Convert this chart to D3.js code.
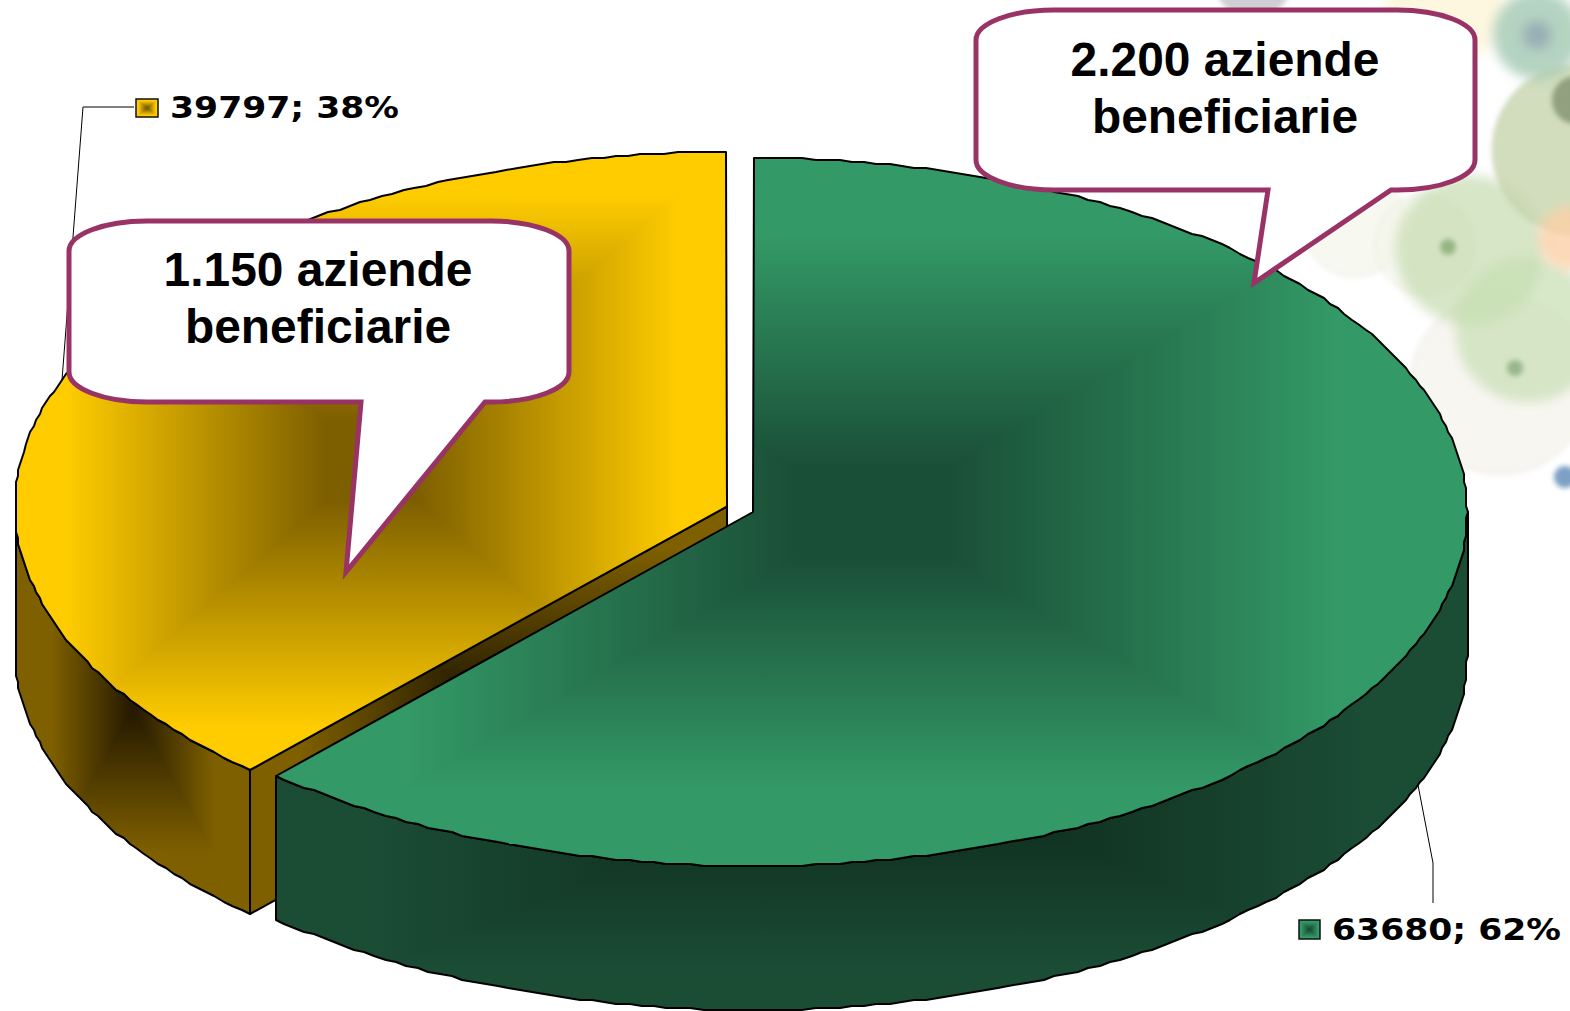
<!DOCTYPE html>
<html>
<head>
<meta charset="utf-8">
<title>Aziende beneficiarie</title>
<script src="https://cdn.jsdelivr.net/npm/d3@7"></script>
<style>
  html, body { margin: 0; padding: 0; background: #fff; overflow: hidden; }
  svg { display: block; }
</style>
</head>
<body>
<svg id="chart" width="1570" height="1011"></svg>
<script>
// values
const categories = ["verde", "giallo"];
const values = [63680, 39797];
const percents = [62, 38];
const calloutLines = [
  ["2.200 aziende", "beneficiarie"],
  ["1.150 aziende", "beneficiarie"]
];

const DEPTH = 144;
const STEP = Math.PI / 180;  // coarse outline, the source is a low-res metafile
const SNAP = 2;

const looks = {
  verde: {
    cx: 753, cy: 512, rx: 714, ry: 354,
    top: ["#339966", "#1a4f37"], wall: ["#1b4d35", "#0b2418"], cut: ["#1b4d35", "#0b2418"],
    topReach: 0.78, wallReach: 0.85,
    label: { x: 1332, y: 940, key: [1299, 920, 21, 19] },
    leader: [[1418, 785], [1433, 863], [1433, 903]]
  },
  giallo: {
    cx: 727, cy: 506.5, rx: 712, ry: 354.5,
    top: ["#ffcc00", "#7d5f00"], wall: ["#7f6000", "#241900"], cut: ["#7f6000", "#1c1400"],
    topReach: 0.86, wallReach: 0.7,
    label: { x: 170, y: 118, key: [136, 99, 22, 18] },
    leader: [[134, 107], [83, 107], [62, 380]]
  }
};

const calloutBoxes = [
  { x0: 976, y0: 10, x1: 1475, y1: 190, tail: [1268, 1254, 283, 1391], textX: 1225, textY: 76 },
  { x0: 69, y0: 221, x1: 569, y1: 402, tail: [361, 346, 572, 485], textX: 318, textY: 286 }
];

// faded decoration behind the top right corner
const bubbles = [
  { x: 1253, y: -22, r: 40, c: "#b9b9c0", o: 0.7, blur: 1 },
  { x: 1445, y: 5, r: 60, c: "#fbf0c0", o: 0.5, blur: 2 },
  { x: 1355, y: 225, r: 52, c: "#f2f3e6", o: 0.6, ring: 1, blur: 1 },
  { x: 1425, y: 245, r: 50, c: "#f3f5ea", o: 0.6, ring: 1, blur: 1 },
  { x: 1500, y: 385, r: 90, c: "#f5f3ec", o: 0.75, ring: 1, blur: 1 },
  { x: 1470, y: 250, r: 74, c: "#c4dcae", o: 0.7, ring: 1, blur: 2 },
  { x: 1528, y: 330, r: 72, c: "#c6deb2", o: 0.7, ring: 1, blur: 2 },
  { x: 1578, y: 150, r: 86, c: "#c6d5ac", o: 0.8, ring: 1, blur: 1 },
  { x: 1570, y: 238, r: 32, c: "#fbcfa6", o: 0.8, blur: 2 },
  { x: 1537, y: 35, r: 44, c: "#a2c8b2", o: 0.8, blur: 2 },
  { x: 1537, y: 35, r: 14, c: "#8ea2b0", o: 0.75, blur: 2 },
  { x: 1576, y: 100, r: 24, c: "#8b9a78", o: 0.9, blur: 1 },
  { x: 1448, y: 247, r: 8, c: "#86ab74", o: 0.8, blur: 1 },
  { x: 1515, y: 368, r: 8, c: "#8bab7c", o: 0.8, blur: 1 },
  { x: 1565, y: 477, r: 11, c: "#7ea0c6", o: 1, blur: 1 }
];

const svg = d3.select("#chart");
const defs = svg.append("defs");

[[1, 2.5], [2, 6]].forEach(([level, dev]) => {
  defs.append("filter").attr("id", "soft" + level)
      .attr("x", "-40%").attr("y", "-40%").attr("width", "180%").attr("height", "180%")
    .append("feGaussianBlur").attr("stdDeviation", dev);
});

main();

function main () {
  drawBubbles();

  const pie = d3.pie().sort(null).value(d => d.value);
  const slices = pie(categories.map((name, i) => ({ name, value: values[i], pct: percents[i] })));

  // the 3d view skews the boundary a little away from the true angle
  const boundary = slices[0].endAngle;
  const view = d3.scaleLinear()
    .domain([0, boundary, 2 * Math.PI])
    .range([0, boundary + 0.008, 2 * Math.PI]);

  const [verde, giallo] = slices.map(s => Object.assign(s, {
    a0: view(s.startAngle),
    a1: view(s.endAngle),
    look: looks[s.data.name]
  }));

  drawSlice(giallo, true);
  drawSlice(verde, false);

  slices.forEach(drawLabel);
  calloutBoxes.forEach((box, i) => drawCallout(box, calloutLines[i]));
}

function drawBubbles () {
  svg.append("g")
    .selectAll("circle").data(bubbles).enter()
    .append("circle")
    .attr("cx", d => d.x)
    .attr("cy", d => d.y)
    .attr("r", d => d.r)
    .attr("fill", d => d.c)
    .attr("fill-opacity", d => d.o)
    .attr("stroke", d => d.ring ? "#b5b8a0" : "none")
    .attr("stroke-opacity", 0.35)
    .attr("filter", d => d.blur ? `url(#soft${d.blur})` : null);
}

function projector (look) {
  const x = d3.scaleLinear([-1, 1], [look.cx - look.rx, look.cx + look.rx]);
  const y = d3.scaleLinear([-1, 1], [look.cy - look.ry, look.cy + look.ry]);
  return (a, drop = 0) => [
    Math.round(x(Math.sin(a)) / SNAP) * SNAP,
    Math.round(y(-Math.cos(a)) / SNAP) * SNAP + drop
  ];
}

// samples sit on one shared angle grid, so wall and top outlines coincide
function arcPoints (at, a0, a1, drop) {
  const first = Math.ceil(a0 / STEP + 1e-6);
  const last = Math.floor(a1 / STEP - 1e-6);
  const pts = d3.range(first, last + 1).map(k => at(k * STEP, drop));
  return [at(a0, drop)].concat(pts, [at(a1, drop)]);
}

function drawSlice (slice, withCut) {
  const { a0, a1, look } = slice;
  const at = projector(look);
  const name = slice.data.name;
  const apex = [look.cx, look.cy];

  // outer wall, only the part facing the viewer
  const w0 = Math.max(a0, Math.PI / 2);
  const w1 = Math.min(a1, 3 * Math.PI / 2);
  const front = arcPoints(at, w0, w1, 0);
  const back = arcPoints(at, w0, w1, DEPTH).reverse();
  const wallPts = front.concat(back);

  if (withCut) {
    // face left open by the cut, seen in the gap between the slices
    const corner = at(a0, 0);
    const cutPts = [apex, corner, [corner[0], corner[1] + DEPTH], [apex[0], apex[1] + DEPTH]];
    const box = [corner[0], look.cy, look.cx, corner[1] + DEPTH];
    shaded(name + "-cut", cutPts, box, look.cut, [0, 0.8]);
  }

  const wallBox = [
    d3.min(wallPts, p => p[0]), look.cy,
    d3.max(wallPts, p => p[0]), d3.max(wallPts, p => p[1])
  ];
  shaded(name + "-wall", wallPts, wallBox, look.wall, [0, look.wallReach]);

  // top face
  const topPts = [apex].concat(arcPoints(at, a0, a1, 0));
  const topBox = [
    d3.min(topPts, p => p[0]), d3.min(topPts, p => p[1]),
    d3.max(topPts, p => p[0]), d3.max(topPts, p => p[1])
  ];
  shaded(name + "-top", topPts, topBox, look.top, [0.13, look.topReach]);
}

// rectangular "from centre" fill: four triangles meeting in the box centre
function shaded (id, pts, box, colors, stops) {
  const path = d3.line()(pts) + "Z";
  defs.append("clipPath").attr("id", "clip-" + id).append("path").attr("d", path);
  const g = svg.append("g");
  boxFill(g.append("g").attr("clip-path", `url(#clip-${id})`), id, box, colors, stops);
  g.append("path")
    .attr("d", path)
    .attr("fill", "none")
    .attr("stroke", "#000")
    .attr("stroke-width", 2)
    .attr("stroke-linejoin", "round");
}

function boxFill (g, id, box, colors, stops) {
  const [x0, y0, x1, y1] = box;
  const mx = (x0 + x1) / 2;
  const my = (y0 + y1) / 2;
  const sides = [
    { key: "t", from: [mx, y0], tri: [[x0, y0], [x1, y0], [mx, my]] },
    { key: "r", from: [x1, my], tri: [[x1, y0], [x1, y1], [mx, my]] },
    { key: "b", from: [mx, y1], tri: [[x1, y1], [x0, y1], [mx, my]] },
    { key: "l", from: [x0, my], tri: [[x0, y1], [x0, y0], [mx, my]] }
  ];
  sides.forEach(side => {
    const gid = `grad-${id}-${side.key}`;
    const grad = defs.append("linearGradient").attr("id", gid)
      .attr("gradientUnits", "userSpaceOnUse")
      .attr("x1", mx).attr("y1", my)
      .attr("x2", side.from[0]).attr("y2", side.from[1]);
    grad.append("stop").attr("offset", stops[0]).attr("stop-color", colors[1]);
    grad.append("stop").attr("offset", stops[1]).attr("stop-color", colors[0]);
    g.append("polygon")
      .attr("points", side.tri.join(" "))
      .attr("fill", `url(#${gid})`)
      .attr("shape-rendering", "crispEdges");
  });
}

function drawLabel (slice) {
  const { look } = slice;
  const { label } = look;
  const name = slice.data.name;

  svg.append("path")
    .attr("d", d3.line()(look.leader))
    .attr("fill", "none")
    .attr("stroke", "#000")
    .attr("stroke-width", 1);

  const [kx, ky, kw, kh] = label.key;
  defs.append("clipPath").attr("id", "clip-key-" + name)
    .append("rect").attr("x", kx).attr("y", ky).attr("width", kw).attr("height", kh);
  boxFill(svg.append("g").attr("clip-path", `url(#clip-key-${name})`),
    "key-" + name, [kx, ky, kx + kw, ky + kh], look.top, [0.1, 0.8]);
  svg.append("rect")
    .attr("x", kx).attr("y", ky).attr("width", kw).attr("height", kh)
    .attr("fill", "none")
    .attr("stroke", "#111")
    .attr("stroke-width", 1.5);

  svg.append("text")
    .attr("x", label.x)
    .attr("y", label.y)
    .attr("font-family", "'DejaVu Sans', sans-serif")
    .attr("font-weight", "bold")
    .attr("font-size", 30.5)
    .attr("textLength", 229)
    .attr("lengthAdjust", "spacingAndGlyphs")
    .text(`${slice.data.value}; ${slice.data.pct}%`);
}

function drawCallout (box, lines) {
  const { x0, y0, x1, y1, tail } = box;
  const crx = 78;
  const cry = 30;
  const [t0, tipX, tipY, t1] = tail;
  const d = [
    `M${x0 + crx},${y0}`,
    `L${x1 - crx},${y0}`,
    `A${crx},${cry} 0 0 1 ${x1},${y0 + cry}`,
    `L${x1},${y1 - cry}`,
    `A${crx},${cry} 0 0 1 ${x1 - crx},${y1}`,
    `L${t1},${y1}`,
    `L${tipX},${tipY}`,
    `L${t0},${y1}`,
    `L${x0 + crx},${y1}`,
    `A${crx},${cry} 0 0 1 ${x0},${y1 - cry}`,
    `L${x0},${y0 + cry}`,
    `A${crx},${cry} 0 0 1 ${x0 + crx},${y0}`,
    "Z"
  ].join("");

  svg.append("path")
    .attr("d", d)
    .attr("fill", "#fff")
    .attr("stroke", "#993366")
    .attr("stroke-width", 5);

  svg.selectAll(null).data(lines).enter()
    .append("text")
    .attr("x", box.textX)
    .attr("y", (l, i) => box.textY + i * 57)
    .attr("text-anchor", "middle")
    .attr("font-family", "'Liberation Sans', Arial, sans-serif")
    .attr("font-weight", "bold")
    .attr("font-size", 47.9)
    .text(l => l);
}
</script>
</body>
</html>
